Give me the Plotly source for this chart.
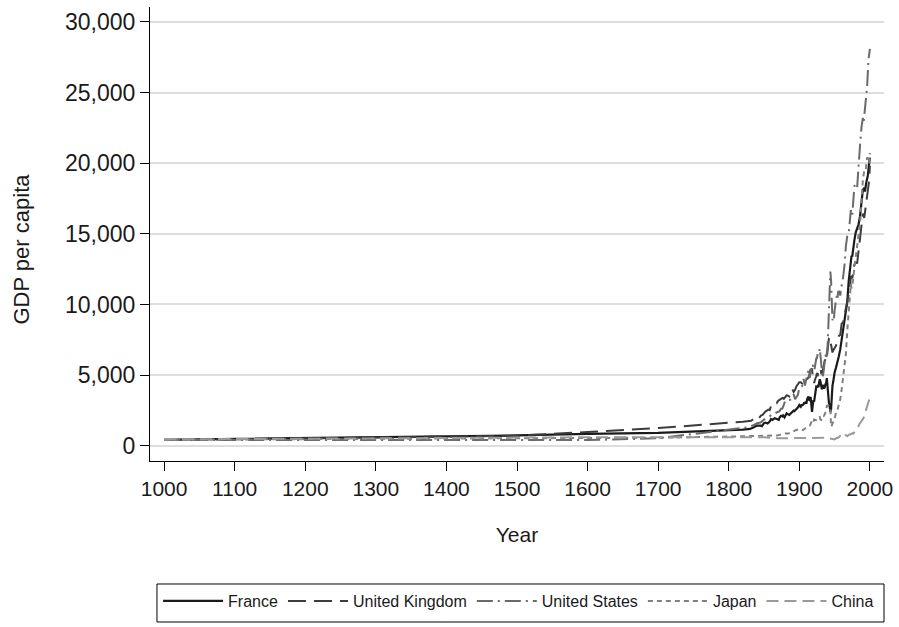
import plotly.graph_objects as go

# GDP per capita (1990 international dollars), selected years
france_years = [1000, 1500, 1600, 1700, 1820, 1825, 1830, 1835, 1840, 1845, 1847, 1850,
                1852, 1855, 1858, 1860, 1862, 1865, 1868, 1870, 1871, 1872, 1874, 1876,
                1877, 1879, 1880, 1882, 1884, 1886, 1887, 1889, 1890, 1892, 1893, 1895,
                1896, 1898, 1899, 1900, 1901, 1902, 1903, 1904, 1905, 1906, 1907, 1908,
                1909, 1910, 1911, 1912, 1913, 1914, 1915, 1916, 1917, 1918, 1919, 1920,
                1921, 1922, 1923, 1924, 1925, 1926, 1927, 1928, 1929, 1930, 1931, 1932,
                1933, 1934, 1935, 1936, 1937, 1938, 1939, 1940, 1941, 1942, 1943, 1944,
                1945, 1946, 1947, 1948, 1949, 1950, 1952, 1954, 1956, 1958, 1960, 1962,
                1964, 1966, 1968, 1970, 1972, 1973, 1974, 1975, 1976, 1978, 1980, 1982,
                1984, 1986, 1988, 1990, 1992, 1993, 1995, 1997, 1999, 2000]
france_gdp = [425, 727, 841, 910, 1135, 1160, 1191, 1290, 1428, 1420, 1390, 1597,
              1640, 1580, 1720, 1892, 1830, 1950, 1900, 1876, 1840, 2000, 2120, 2080,
              2150, 2010, 2120, 2290, 2220, 2180, 2250, 2320, 2376, 2480, 2450, 2520,
              2600, 2700, 2880, 2876, 2810, 2760, 2880, 2860, 2900, 2940, 3070, 2990,
              3120, 2965, 3280, 3480, 3485, 3236, 3210, 3470, 2930, 2396, 2850, 3227,
              3120, 3610, 3800, 4190, 4166, 4230, 4140, 4360, 4710, 4532, 4320, 3990,
              4260, 4250, 4060, 4130, 4350, 4424, 4790, 4040, 3380, 3020, 2840, 2380,
              2570, 4070, 4260, 4510, 4970, 5186, 5530, 5880, 6330, 6820, 7546, 8150,
              8870, 9500, 10220, 11664, 12620, 13114, 13450, 13393, 13890, 14540, 15106, 15400,
              15680, 16250, 17200, 18093, 18250, 18000, 18662, 19100, 20000, 20392]

uk_years = [1000, 1500, 1600, 1700, 1820, 1830, 1832, 1834, 1836, 1838, 1840, 1842,
            1844, 1846, 1848, 1850, 1852, 1854, 1856, 1858, 1860, 1862, 1864, 1866,
            1868, 1870, 1872, 1874, 1876, 1878, 1880, 1882, 1884, 1886, 1888, 1890,
            1892, 1894, 1896, 1898, 1900, 1902, 1904, 1906, 1908, 1910, 1911, 1912,
            1913, 1914, 1915, 1916, 1917, 1918, 1919, 1920, 1921, 1922, 1923, 1924,
            1925, 1926, 1927, 1928, 1929, 1930, 1931, 1932, 1933, 1934, 1935, 1936,
            1937, 1938, 1939, 1940, 1941, 1942, 1943, 1944, 1945, 1946, 1947, 1948,
            1949, 1950, 1952, 1954, 1956, 1958, 1960, 1962, 1964, 1966, 1968, 1970,
            1972, 1973, 1974, 1975, 1976, 1978, 1980, 1982, 1984, 1986, 1988, 1990,
            1992, 1993, 1995, 1997, 1999, 2000]
uk_gdp = [400, 714, 974, 1250, 1706, 1749, 1770, 1850, 1960, 1940, 1990, 1890,
          2050, 2150, 2180, 2330, 2420, 2480, 2560, 2520, 2830, 2780, 2930, 3030,
          3010, 3190, 3250, 3350, 3380, 3320, 3477, 3570, 3550, 3480, 3700, 4009,
          3810, 3960, 4210, 4390, 4492, 4490, 4410, 4590, 4470, 4611, 4690, 4760,
          4921, 4927, 5288, 5372, 5397, 5459, 4877, 4548, 4439, 4637, 4760, 4921,
          5144, 4913, 5286, 5312, 5503, 5441, 5138, 5148, 5277, 5608, 5797, 5998,
          6136, 5983, 6262, 6856, 7482, 7619, 7700, 7350, 7050, 6750, 6600, 6750,
          6850, 6939, 7080, 7540, 7780, 7840, 8645, 8710, 9400, 9740, 10150, 10767,
          11280, 12025, 11860, 11847, 12120, 12830, 12931, 12950, 13800, 14600, 15800, 16430,
          16130, 16470, 17500, 18200, 18800, 19817]

us_years = [1000, 1500, 1600, 1700, 1820, 1825, 1830, 1835, 1840, 1845, 1850, 1855,
            1860, 1865, 1869, 1870, 1872, 1874, 1876, 1878, 1880, 1882, 1884, 1886,
            1888, 1890, 1892, 1894, 1896, 1898, 1900, 1902, 1904, 1906, 1908, 1910,
            1911, 1912, 1913, 1914, 1915, 1916, 1917, 1918, 1919, 1920, 1921, 1922,
            1923, 1924, 1925, 1926, 1927, 1928, 1929, 1930, 1931, 1932, 1933, 1934,
            1935, 1936, 1937, 1938, 1939, 1940, 1941, 1942, 1943, 1944, 1945, 1946,
            1947, 1948, 1949, 1950, 1951, 1952, 1953, 1954, 1955, 1956, 1957, 1958,
            1959, 1960, 1962, 1964, 1966, 1968, 1970, 1972, 1973, 1974, 1975, 1976,
            1978, 1980, 1982, 1984, 1985, 1986, 1988, 1990, 1991, 1992, 1994, 1996,
            1998, 2000]
us_gdp = [400, 400, 400, 527, 1257, 1300, 1376, 1450, 1588, 1640, 1849, 1950,
          2178, 2300, 2420, 2445, 2450, 2620, 2630, 2900, 3184, 3220, 3200, 3240,
          3280, 3392, 3640, 3290, 3440, 3610, 4091, 4110, 4220, 4730, 4260, 4964,
          4970, 5200, 5301, 4799, 4864, 5459, 5248, 5659, 5680, 5552, 5323, 5540,
          6164, 6190, 6195, 6510, 6470, 6480, 6899, 6213, 5691, 4908, 4777, 5114,
          5467, 6204, 6430, 6126, 6561, 7010, 8206, 9741, 11518, 12333, 11709, 9197,
          8886, 9065, 8944, 9561, 10116, 10316, 10613, 10359, 10897, 10914, 10920, 10631,
          11230, 11328, 11905, 12773, 14134, 14863, 15030, 16284, 16689, 16491, 16284, 16975,
          18373, 18577, 18325, 19783, 20717, 21236, 22499, 23201, 22849, 23298, 24249, 25364,
          27331, 28100]

japan_years = [1000, 1500, 1600, 1700, 1820, 1850, 1870, 1875, 1880, 1885, 1890, 1895,
               1900, 1905, 1910, 1913, 1915, 1917, 1919, 1920, 1921, 1922, 1923, 1924,
               1925, 1926, 1927, 1928, 1929, 1930, 1931, 1932, 1933, 1934, 1935, 1936,
               1937, 1938, 1939, 1940, 1941, 1942, 1943, 1944, 1945, 1946, 1947, 1948,
               1949, 1950, 1952, 1954, 1956, 1958, 1960, 1962, 1964, 1966, 1968, 1970,
               1971, 1972, 1973, 1974, 1975, 1976, 1978, 1980, 1982, 1984, 1986, 1988,
               1990, 1992, 1994, 1996, 1997, 1998, 1999, 2000]
japan_gdp = [425, 500, 520, 570, 669, 681, 737, 800, 863, 870, 1012, 1100,
             1180, 1100, 1304, 1387, 1430, 1660, 1827, 1696, 1860, 1830, 1809, 1831,
             1885, 1870, 1870, 1992, 2026, 1850, 1837, 1962, 2122, 2098, 2120, 2244,
             2315, 2449, 2816, 2874, 2873, 2818, 2822, 2659, 1346, 1444, 1541, 1725,
             1800, 1921, 2336, 2474, 2948, 3289, 3986, 4777, 5668, 6506, 8184, 9714,
             10040, 10734, 11434, 11145, 11344, 11669, 12585, 13428, 14078, 14773, 15713, 17185,
             18789, 19481, 19467, 20364, 20410, 20084, 19999, 20738]

china_years = [1000, 1500, 1600, 1700, 1820, 1850, 1870, 1890, 1900, 1913, 1929, 1930,
               1931, 1932, 1933, 1934, 1935, 1936, 1938, 1950, 1951, 1952, 1953, 1954,
               1955, 1956, 1957, 1958, 1959, 1960, 1961, 1962, 1963, 1964, 1965, 1966,
               1967, 1968, 1969, 1970, 1971, 1972, 1973, 1974, 1975, 1976, 1977, 1978,
               1979, 1980, 1981, 1982, 1983, 1984, 1985, 1986, 1987, 1988, 1989, 1990,
               1991, 1992, 1993, 1994, 1995, 1996, 1997, 1998, 1999, 2000]
china_gdp = [450, 600, 600, 600, 600, 600, 530, 540, 545, 552, 562, 567,
             571, 579, 574, 532, 567, 586, 562, 448, 498, 538, 554, 555,
             575, 619, 637, 693, 697, 662, 559, 553, 592, 648, 706, 753,
             712, 678, 722, 778, 793, 796, 838, 836, 874, 852, 895, 978,
             1039, 1061, 1091, 1186, 1265, 1396, 1522, 1597, 1706, 1816, 1827, 1871,
             1967, 2132, 2312, 2515, 2653, 2800, 2945, 3117, 3259, 3421]

x_ticks = list(range(1000, 2001, 100))
y_ticks = [0, 5000, 10000, 15000, 20000, 25000, 30000]

series = [
    ("France", france_years, france_gdp, "#1a1a1a", "solid", 2.2),
    ("United Kingdom", uk_years, uk_gdp, "#3c3c3c", "18px,8px", 2.0),
    ("United States", us_years, us_gdp, "#6a6a6a", "16px,5px,2px,5px", 2.0),
    ("Japan", japan_years, japan_gdp, "#808080", "5px,4px", 2.0),
    ("China", china_years, china_gdp, "#9a9a9a", "12px,6px", 2.0),
]

fig = go.Figure()
for name, xs, ys, color, dash, width in series:
    fig.add_trace(go.Scatter(
        x=xs, y=ys, mode="lines", name=name,
        line=dict(color=color, dash=dash, width=width),
    ))

font_family = "Liberation Sans, Arial, Helvetica, sans-serif"

fig.update_layout(
    width=899, height=627,
    margin=dict(l=150, r=15, t=7, b=166),
    paper_bgcolor="white", plot_bgcolor="white",
    font=dict(family=font_family, color="#1a1a1a"),
    showlegend=True,
    xaxis=dict(
        range=[980, 2020], tickvals=x_ticks, ticks="outside", ticklen=9,
        tickcolor="black", tickwidth=1, showline=True, linecolor="black",
        linewidth=1, showgrid=False, zeroline=False,
        tickfont=dict(size=21),
        title=dict(text="Year", font=dict(size=21), standoff=28),
    ),
    yaxis=dict(
        range=[-1080, 31060], tickvals=y_ticks, tickformat=",", ticks="outside",
        ticklen=9, tickcolor="black", tickwidth=1, showline=True,
        linecolor="black", linewidth=1, showgrid=True, gridcolor="#dedede",
        gridwidth=1.5, zeroline=False,
        tickfont=dict(size=23),
    ),
    legend=dict(
        orientation="h", x=0.011, xanchor="left", y=-0.271, yanchor="top",
        borderwidth=0, font=dict(size=16),
        itemwidth=60, bgcolor="rgba(0,0,0,0)",
    ),
    annotations=[
        dict(text="GDP per capita", textangle=-90, xref="paper", yref="paper",
             x=-0.1744, y=0.468, xanchor="center", yanchor="middle",
             showarrow=False, font=dict(size=22)),
    ],
    shapes=[
        # frame around the key
        dict(type="rect", xref="paper", yref="paper",
             x0=0.0095, x1=1.0, y0=-0.3546, y1=-0.2709,
             line=dict(color="black", width=1), fillcolor="rgba(0,0,0,0)"),
    ],
)

fig.write_html("out.html", config={"displayModeBar": False})
